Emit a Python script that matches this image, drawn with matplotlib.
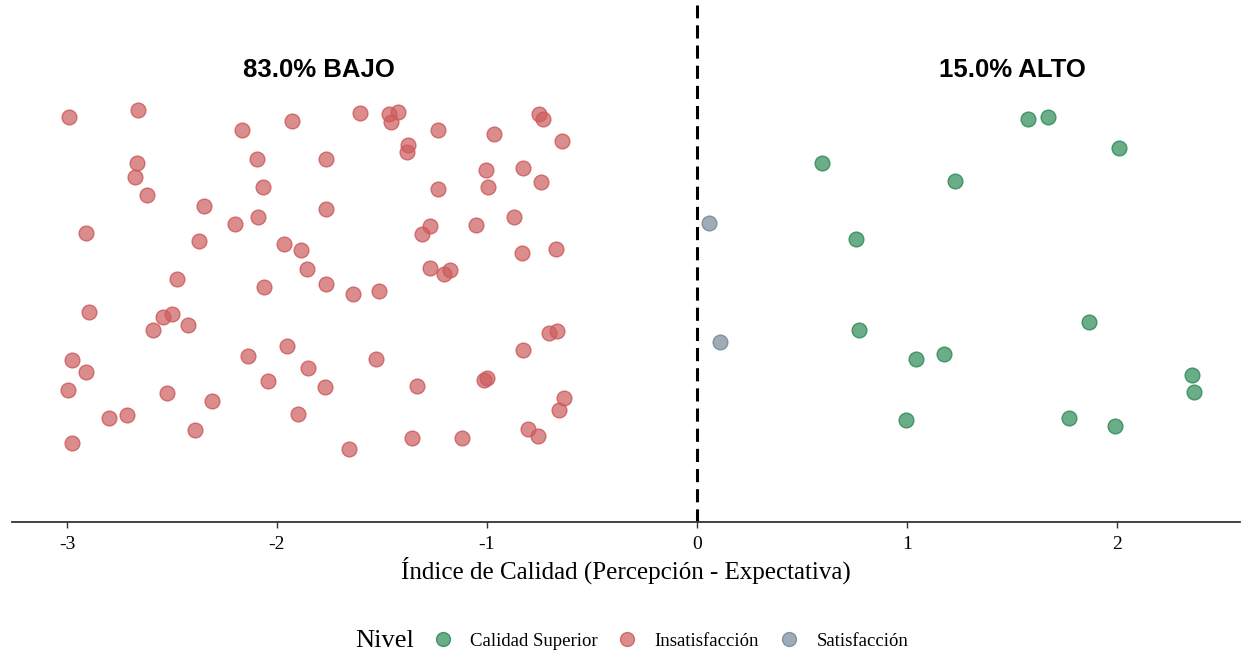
import matplotlib
matplotlib.use("Agg")
import matplotlib.pyplot as plt
from matplotlib.lines import Line2D

# ---- data ----
red_x = [-2.990, -2.662, -2.168, -1.930, -2.668, -2.676, -2.620, -2.097, -1.767, -2.065,
         -2.348, -2.199, -2.090, -1.767, -2.908, -2.371, -1.967, -1.887, -1.859, -1.767,
         -2.478, -2.060, -2.895, -2.544, -2.501, -2.590, -2.424, -1.954, -2.138, -1.852,
         -1.771, -2.978, -2.908, -2.995, -2.525, -2.041, -2.311, -2.800, -2.716, -2.389,
         -1.900, -2.978, -1.603, -1.465, -1.422, -1.459, -1.232, -0.965, -0.752, -0.732,
         -0.641, -1.378, -1.382, -1.006, -0.827, -0.743, -1.232, -0.994, -0.870, -1.054,
         -1.273, -1.310, -0.832, -0.673, -1.273, -1.178, -1.205, -1.638, -1.513, -0.705,
         -0.667, -0.827, -1.530, -1.335, -1.014, -0.999, -0.632, -0.656, -0.805, -0.756,
         -1.357, -1.119, -1.656]
red_y = [4.05, 4.12, 3.92, 4.01, 3.59, 3.45, 3.27, 3.63, 3.63, 3.35,
         3.16, 2.98, 3.05, 3.13, 2.89, 2.81, 2.78, 2.72, 2.53, 2.38,
         2.43, 2.35, 2.10, 2.05, 2.08, 1.92, 1.97, 1.76, 1.66, 1.54,
         1.35, 1.62, 1.50, 1.32, 1.29, 1.41, 1.21, 1.04, 1.07, 0.92,
         1.08, 0.79, 4.09, 4.08, 4.10, 4.00, 3.92, 3.88, 4.08, 4.03,
         3.81, 3.77, 3.70, 3.52, 3.54, 3.40, 3.33, 3.35, 3.05, 2.97,
         2.96, 2.88, 2.69, 2.73, 2.54, 2.52, 2.48, 2.28, 2.31, 1.89,
         1.91, 1.72, 1.63, 1.36, 1.42, 1.44, 1.24, 1.12, 0.93, 0.86,
         0.84, 0.84, 0.73]
green_x = [0.597, 0.757, 0.770, 1.043, 0.995, 1.575, 1.670, 2.010, 1.230, 1.867,
           1.175, 2.356, 2.367, 1.771, 1.992]
green_y = [3.59, 2.83, 1.92, 1.63, 1.02, 4.03, 4.05, 3.74, 3.41, 2.00,
           1.68, 1.47, 1.30, 1.04, 0.96]
grey_x = [0.056, 0.110]
grey_y = [2.99, 1.80]

levels = ["Calidad Superior", "Insatisfacción", "Satisfacción"]
pct_labels = ["83.0% BAJO", "15.0% ALTO"]
pct_x = [-1.80, 1.50]
xticks = [-3, -2, -1, 0, 1, 2]
xlabel = "Índice de Calidad (Percepción - Expectativa)"

colors = {"Calidad Superior": "#2E8B57", "Insatisfacción": "#CD5C5C", "Satisfacción": "#778899"}

fig = plt.figure(figsize=(12.43, 6.54), dpi=100)
ax = fig.add_axes([12/1243, 132/654, 1228/1243, 517/654])

for lvl, xs, ys in [("Insatisfacción", red_x, red_y),
                    ("Calidad Superior", green_x, green_y),
                    ("Satisfacción", grey_x, grey_y)]:
    c = colors[lvl]
    ax.scatter(xs, ys, s=112, facecolor=matplotlib.colors.to_rgba(c, 0.7),
               edgecolor=matplotlib.colors.to_rgba(c, 0.85), linewidth=1.0, zorder=3)

ax.axvline(0, color="black", linewidth=2.2, linestyle=(0, (4.3, 2.3)), zorder=2)

for t, x in zip(pct_labels, pct_x):
    ax.text(x, 4.52, t, ha="center", va="center", fontsize=18.5, fontweight="bold",
            family="Liberation Sans")

ax.set_xlim((12 - 697) / 210, (1240 - 697) / 210)
ax.set_ylim(0, 5.17)
ax.set_yticks([])
for s in ["left", "right", "top"]:
    ax.spines[s].set_visible(False)
ax.spines["bottom"].set_color("#333333")
ax.spines["bottom"].set_linewidth(1.3)
ax.set_xticks(xticks)
ax.set_xticklabels([str(v) for v in xticks], family="Liberation Serif", fontsize=14)
ax.tick_params(axis="x", length=4, width=1.0, color="#333333", pad=6)
ax.set_xlabel(xlabel, family="Liberation Serif", fontsize=18, labelpad=3)

fig.text(355/1243, 1 - 641/654, "Nivel", family="Liberation Serif", fontsize=19,
         ha="left", va="center")
handles = [Line2D([], [], marker="o", linestyle="none", markersize=10,
                  markerfacecolor=matplotlib.colors.to_rgba(colors[l], 0.7),
                  markeredgecolor=matplotlib.colors.to_rgba(colors[l], 0.85)) for l in levels]
fig.legend(handles, levels, loc="center left", bbox_to_anchor=(422/1243, 1 - 641/654),
           ncol=3, frameon=False, prop={"family": "Liberation Serif", "size": 13.5},
           handletextpad=0.85, columnspacing=1.0, handlelength=1.2, borderpad=0)

fig.savefig("out.png", dpi=100)
